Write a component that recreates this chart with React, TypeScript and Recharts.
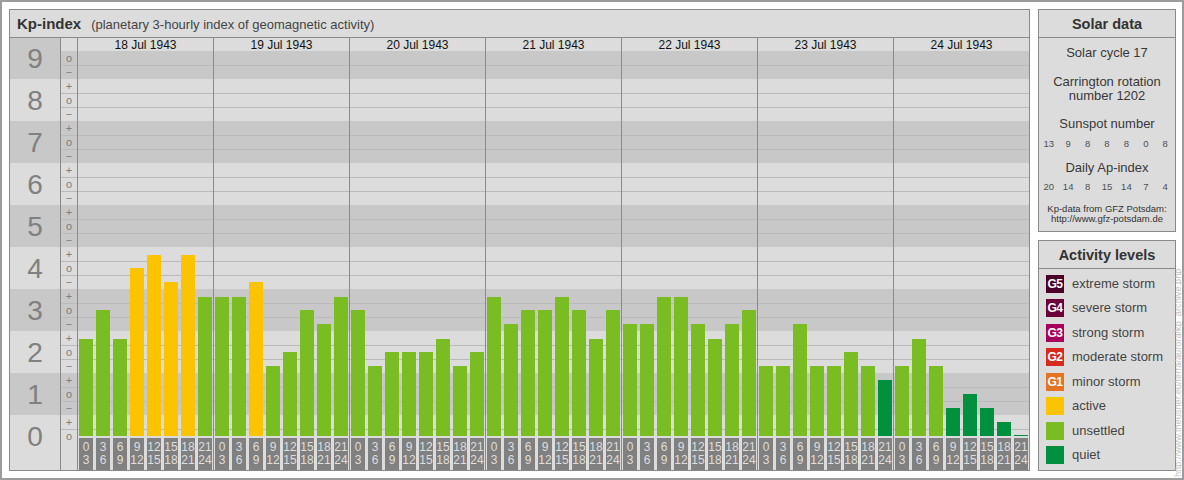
import React from 'react';
import { BarChart, Bar, XAxis, YAxis, Cell, ReferenceArea, ReferenceLine } from 'recharts';

// ---------- data ----------
const dayLabels = ['18 Jul 1943', '19 Jul 1943', '20 Jul 1943', '21 Jul 1943', '22 Jul 1943', '23 Jul 1943', '24 Jul 1943'];
const kpJul18 = [2.333, 3, 2.333, 4, 4.333, 3.667, 4.333, 3.333];
const kpJul19 = [3.333, 3.333, 3.667, 1.667, 2, 3, 2.667, 3.333];
const kpJul20 = [3, 1.667, 2, 2, 2, 2.333, 1.667, 2];
const kpJul21 = [3.333, 2.667, 3, 3, 3.333, 3, 2.333, 3];
const kpJul22 = [2.667, 2.667, 3.333, 3.333, 2.667, 2.333, 2.667, 3];
const kpJul23 = [1.667, 1.667, 2.667, 1.667, 1.667, 2, 1.667, 1.333];
const kpJul24 = [1.667, 2.333, 1.667, 0.667, 1, 0.667, 0.333, 0];
const hourStarts = ['0', '3', '6', '9', '12', '15', '18', '21'];
const hourEnds = ['3', '6', '9', '12', '15', '18', '21', '24'];
const kpLevels = [0, 1, 2, 3, 4, 5, 6, 7, 8, 9];
const signLabels = ['\u2212', 'o', '+'];
const sunspotNumbers = [13, 9, 8, 8, 8, 0, 8];
const dailyAp = [20, 14, 8, 15, 14, 7, 4];
const legendCodes = ['G5', 'G4', 'G3', 'G2', 'G1', '', '', ''];
const legendNames = ['extreme storm', 'severe storm', 'strong storm', 'moderate storm', 'minor storm', 'active', 'unsettled', 'quiet'];
const legendColors = ['#4b0027', '#6c0039', '#a5005b', '#d52a1c', '#e47322', '#fcc400', '#79bd22', '#00913e'];

// ---------- derived tables ----------
const kpByDay = [kpJul18, kpJul19, kpJul20, kpJul21, kpJul22, kpJul23, kpJul24];
const slotsPerDay = hourStarts.length;
const chartData = kpByDay.flatMap((day, d) =>
  day.map((kp, h) => ({ x: d * slotsPerDay + h + 0.5, kp, slot: d * slotsPerDay + h }))
);
const signTicks = kpLevels
  .flatMap((k) => signLabels.map((s, j) => ({ value: k + (j - 1) / 3, label: s })))
  .filter((t) => t.value >= -0.001 && t.value <= 9.001);
const gridValues = kpLevels.flatMap((k) => [k - 1 / 6, k + 1 / 6]).filter((v) => v > 0 && v < 9);

// ---------- style ----------
const FONT = '"Liberation Sans", Arial, Helvetica, sans-serif';
const LIGHT = '#dcdcdc';
const DARK = '#c8c8c8';
const BORDER = '#8a8a8a';
const GRID = '#bababa';
const X_MIN = -4; // number column (3 slots) + sign column (1 slot)
const SIGN_COL = -1;
const X_MAX = dayLabels.length * slotsPerDay;
const Y_MAX = 9.5;
const Y_MIN = -0.81;
const DATE_ROW = 9 + 1 / 6;

const levelColor = (kp: number) =>
  kp < 1.5 ? legendColors[7]
  : kp < 3.5 ? legendColors[6]
  : kp < 4.5 ? legendColors[5]
  : kp < 5.5 ? legendColors[4]
  : kp < 6.5 ? legendColors[3]
  : kp < 7.5 ? legendColors[2]
  : kp < 8.5 ? legendColors[1]
  : legendColors[0];

const XTickBox = (props: any) => {
  const { viewBox, top, bottom } = props;
  if (!viewBox) return null;
  const { x, y, width, height } = viewBox;
  const cx = x + width / 2;
  return (
    <g>
      <text x={cx} y={y + height * 0.29} textAnchor="middle" dominantBaseline="central" fontSize={12} fill="#dedede" fontFamily={FONT}>
        {top}
      </text>
      <text x={cx} y={y + height * 0.71} textAnchor="middle" dominantBaseline="central" fontSize={12} fill="#dedede" fontFamily={FONT}>
        {bottom}
      </text>
    </g>
  );
};

const KpChart = () => (
  <BarChart
    width={1021}
    height={434}
    data={chartData}
    margin={{ top: 0.5, right: 0.5, bottom: 0.5, left: 0.5 }}
    style={{ shapeRendering: 'crispEdges' }}
  >
    <XAxis type="number" dataKey="x" domain={[X_MIN, X_MAX]} allowDataOverflow hide />
    <YAxis type="number" domain={[Y_MIN, Y_MAX]} allowDataOverflow hide />

    {/* number column cells */}
    {kpLevels.map((k) => (
      <ReferenceArea
        key={'num' + k}
        x1={X_MIN}
        x2={SIGN_COL}
        y1={k - 0.5}
        y2={k + 0.5}
        fill={k % 2 === 1 ? DARK : LIGHT}
        fillOpacity={1}
        stroke="none"
        zIndex={1}
        label={{ value: String(k), position: 'center', fontSize: 28, fill: '#808080', fontFamily: FONT }}
      />
    ))}

    {/* alternating bands across sign column and plot */}
    {kpLevels.filter((k) => k % 2 === 1).map((k) => (
      <ReferenceArea
        key={'band' + k}
        x1={SIGN_COL}
        x2={X_MAX}
        y1={k - 0.5}
        y2={Math.min(k + 0.5, DATE_ROW)}
        fill={DARK}
        fillOpacity={1}
        stroke="none"
        zIndex={1}
      />
    ))}

    {/* horizontal grid lines */}
    {gridValues.map((v) => (
      <ReferenceLine
        key={'g' + v}
        segment={[{ x: SIGN_COL, y: v }, { x: X_MAX, y: v }]}
        stroke={GRID}
        strokeWidth={1}
        zIndex={2}
      />
    ))}

    {/* column / day separators */}
    {[SIGN_COL, ...dayLabels.map((_, d) => d * slotsPerDay)].map((b) => (
      <ReferenceLine key={'v' + b} x={b} stroke={BORDER} strokeWidth={1} zIndex={3} />
    ))}

    {/* date labels */}
    {dayLabels.map((lab, d) => (
      <ReferenceArea
        key={'d' + d}
        x1={d * slotsPerDay}
        x2={(d + 1) * slotsPerDay}
        y1={DATE_ROW}
        y2={Y_MAX}
        fill="none"
        stroke="none"
        zIndex={3}
        label={{ value: lab, position: 'center', fontSize: 12, fill: '#111', fontFamily: FONT }}
      />
    ))}

    {/* sign column symbols */}
    {signTicks.map((t) => (
      <ReferenceArea
        key={'s' + t.value}
        x1={SIGN_COL}
        x2={0}
        y1={t.value - 1 / 6}
        y2={t.value + 1 / 6}
        fill="none"
        stroke="none"
        zIndex={3}
        label={{ value: t.label, position: 'center', fontSize: 11, fill: '#7e7e7e', fontFamily: FONT }}
      />
    ))}

    {/* 3-hour interval tick boxes */}
    {chartData.map((d) => (
      <ReferenceArea
        key={'xb' + d.slot}
        x1={d.slot + 0.06}
        x2={d.slot + 0.94}
        y1={Y_MIN + 0.02}
        y2={-0.036}
        fill="#808080"
        fillOpacity={1}
        stroke="none"
        zIndex={3}
        label={<XTickBox top={hourStarts[d.slot % slotsPerDay]} bottom={hourEnds[d.slot % slotsPerDay]} />}
      />
    ))}

    <Bar dataKey="kp" barSize={14} minPointSize={1} isAnimationActive={false}>
      {chartData.map((d) => (
        <Cell key={'c' + d.slot} fill={levelColor(d.kp)} />
      ))}
    </Bar>
  </BarChart>
);

const CText = ({ y, size, bold, children, color }: any) => (
  <div
    style={{
      position: 'absolute',
      left: 0,
      right: 0,
      top: y - 10,
      height: 20,
      lineHeight: '20px',
      textAlign: 'center',
      fontSize: size,
      fontWeight: bold ? 'bold' : 'normal',
      color: color || '#383838',
      whiteSpace: 'nowrap',
    }}
  >
    {children}
  </div>
);

const NumRow = ({ y, values }: any) => (
  <div style={{ position: 'absolute', left: 0, right: 0, top: y - 8, height: 16, lineHeight: '16px', display: 'flex', fontSize: 9.5, color: '#505050' }}>
    {values.map((v: number, i: number) => (
      <div key={i} style={{ flex: 1, textAlign: 'center' }}>{v}</div>
    ))}
  </div>
);

export default function App() {
  const solarTop = 9;
  const actTop = 240;
  return (
    <div
      style={{
        position: 'absolute',
        left: 0,
        top: 0,
        width: 1184,
        height: 480,
        background: '#ffffff',
        fontFamily: FONT,
        overflow: 'hidden',
      }}
    >
      {/* outer frame */}
      <div style={{ position: 'absolute', left: 0, top: 0, width: 1184, height: 480, boxSizing: 'border-box', border: '2px solid #9c9c9c' }} />

      {/* main panel background */}
      <div style={{ position: 'absolute', left: 9, top: 9, width: 1021, height: 462, background: LIGHT }} />

      {/* chart */}
      <div style={{ position: 'absolute', left: 9, top: 37, width: 1021, height: 434 }}>
        <KpChart />
      </div>

      {/* title bar */}
      <div
        style={{
          position: 'absolute',
          left: 9,
          top: 9,
          width: 1021,
          height: 29,
          boxSizing: 'border-box',
          border: `1px solid ${BORDER}`,
          background: LIGHT,
          display: 'flex',
          alignItems: 'baseline',
          paddingLeft: 7,
          lineHeight: '27px',
          whiteSpace: 'nowrap',
        }}
      >
        <span style={{ fontSize: 15, fontWeight: 'bold', color: '#333' }}>Kp-index</span>
        <span style={{ fontSize: 13, color: '#444', marginLeft: 10 }}>(planetary 3-hourly index of geomagnetic activity)</span>
      </div>

      {/* main panel border */}
      <div style={{ position: 'absolute', left: 9, top: 9, width: 1021, height: 462, boxSizing: 'border-box', border: `1px solid ${BORDER}`, pointerEvents: 'none' }} />

      {/* Solar data panel */}
      <div style={{ position: 'absolute', left: 1038, top: solarTop, width: 138, height: 223, boxSizing: 'border-box', border: `1px solid ${BORDER}`, background: LIGHT }}>
        <div style={{ position: 'absolute', left: 0, right: 0, top: 0, height: 28, boxSizing: 'border-box', borderBottom: `1px solid ${BORDER}` }} />
        <CText y={24 - solarTop - 1} size={14.5} bold color="#333">Solar data</CText>
        <CText y={53 - solarTop - 1} size={13}>Solar cycle 17</CText>
        <CText y={81.5 - solarTop - 1} size={13}>Carrington rotation</CText>
        <CText y={96 - solarTop - 1} size={13}>number 1202</CText>
        <CText y={124 - solarTop - 1} size={13}>Sunspot number</CText>
        <NumRow y={144 - solarTop - 1} values={sunspotNumbers} />
        <CText y={168 - solarTop - 1} size={13}>Daily Ap-index</CText>
        <NumRow y={187 - solarTop - 1} values={dailyAp} />
        <CText y={209 - solarTop - 1} size={9.5} color="#333">Kp-data from GFZ Potsdam:</CText>
        <CText y={219 - solarTop - 1} size={9.5} color="#333">http://www.gfz-potsdam.de</CText>
      </div>

      {/* Activity levels panel */}
      <div style={{ position: 'absolute', left: 1038, top: actTop, width: 138, height: 231, boxSizing: 'border-box', border: `1px solid ${BORDER}`, background: LIGHT }}>
        <div style={{ position: 'absolute', left: 0, right: 0, top: 0, height: 28, boxSizing: 'border-box', borderBottom: `1px solid ${BORDER}` }} />
        <CText y={255 - actTop - 1} size={14.5} bold color="#333">Activity levels</CText>
        {legendNames.map((name, i) => {
          const cy = 284 + i * 24.45 - actTop - 1;
          return (
            <React.Fragment key={name}>
              <div
                style={{
                  position: 'absolute',
                  left: 1046 - 1039,
                  top: cy - 9,
                  width: 18,
                  height: 18,
                  background: legendColors[i],
                  color: '#fff',
                  fontSize: 12,
                  fontWeight: 'bold',
                  lineHeight: '18px',
                  textAlign: 'center',
                  letterSpacing: -0.5,
                }}
              >
                {legendCodes[i]}
              </div>
              <div style={{ position: 'absolute', left: 1072 - 1039, top: cy - 10, height: 20, lineHeight: '20px', fontSize: 13, color: '#444', whiteSpace: 'nowrap' }}>
                {name}
              </div>
            </React.Fragment>
          );
        })}
      </div>

      {/* vertical source text */}
      <div
        style={{
          position: 'absolute',
          left: 1178 - 120,
          top: 357 - 6,
          width: 240,
          height: 12,
          lineHeight: '12px',
          fontSize: 9.2,
          color: '#c4c4c4',
          whiteSpace: 'nowrap',
          transform: 'rotate(-90deg)',
          transformOrigin: '50% 50%',
        }}
      >
        http://www.theusner.eu/terra/aurora/kp_archive.php
      </div>
    </div>
  );
}
